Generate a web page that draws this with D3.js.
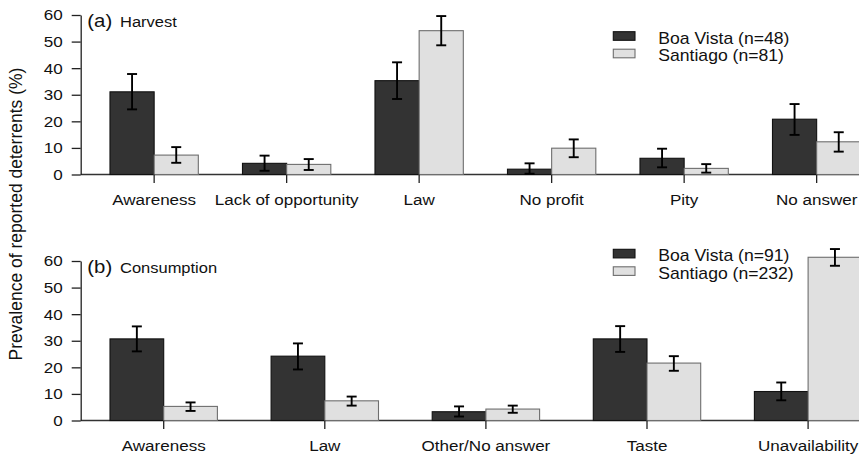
<!DOCTYPE html>
<html>
<head>
<meta charset="utf-8">
<script src="https://cdn.jsdelivr.net/npm/d3@7"></script>
<style>
  html, body { margin: 0; padding: 0; background: #fff; }
  svg { display: block; font-family: "Liberation Sans", Arial, Helvetica, sans-serif; }
</style>
</head>
<body>
<svg id="chart" width="859" height="458"></svg>
<script>
// Reported deterrents: percentages with error bounds, by site
const seriesNames = ["Boa Vista", "Santiago"];
const yTicks = [0, 10, 20, 30, 40, 50, 60];

// (a) Harvest
const harvestCategories = ["Awareness", "Lack of opportunity", "Law", "No profit", "Pity", "No answer"];
const harvestBoaVista      = [31.1, 4.2, 35.3, 2.0, 6.1, 20.8];
const harvestBoaVistaLow   = [24.5, 1.4, 28.4, 0.3, 2.7, 14.9];
const harvestBoaVistaHigh  = [37.8, 7.1, 42.2, 4.2, 9.7, 26.5];
const harvestSantiago      = [7.3, 3.8, 54.1, 9.9, 2.3, 12.3];
const harvestSantiagoLow   = [4.4, 1.7, 48.6, 6.5, 0.7, 8.6];
const harvestSantiagoHigh  = [10.3, 5.8, 59.6, 13.2, 3.9, 15.9];
const harvestLegend = ["Boa Vista (n=48)", "Santiago (n=81)"];

// (b) Consumption
const consumptionCategories = ["Awareness", "Law", "Other/No answer", "Taste", "Unavailability"];
const consumptionBoaVista     = [30.7, 24.2, 3.3, 30.7, 10.9];
const consumptionBoaVistaLow  = [26.0, 19.2, 1.5, 25.8, 7.6];
const consumptionBoaVistaHigh = [35.4, 29.0, 5.3, 35.5, 14.3];
const consumptionSantiago     = [5.3, 7.4, 4.3, 21.6, 61.4];
const consumptionSantiagoLow  = [3.6, 5.6, 2.9, 18.7, 58.2];
const consumptionSantiagoHigh = [6.8, 9.0, 5.6, 24.2, 64.5];
const consumptionLegend = ["Boa Vista (n=91)", "Santiago (n=232)"];

const fills   = ["#333333", "#e0e0e0"];
const strokes = ["#111111", "#6e6e6e"];
const STRETCH = 1.1;   // text is drawn slightly wide

const svg = d3.select("#chart");
const W = 859;
const axisX = 80.7;

function stretchText(sel, x, y) {
  sel.attr("transform", `translate(${x},${y}) scale(${STRETCH},1)`);
}

function panel(cfg) {
  const y = d3.scaleLinear().domain([0, 60]).range([cfg.y0, cfg.y0 - 159.5]);
  const x = d3.scaleBand()
    .domain(cfg.categories)
    .range(cfg.xRange)
    .paddingInner(1 / 3)
    .paddingOuter(1 / 6);
  const xs = d3.scaleBand().domain(seriesNames).range([0, x.bandwidth()]);

  const g = svg.append("g");

  // baseline
  g.append("line")
    .attr("x1", axisX).attr("x2", W)
    .attr("y1", y(0)).attr("y2", y(0))
    .attr("stroke", "#333").attr("stroke-width", 1.3);

  const rows = cfg.categories.map((c, i) => ({
    cat: c,
    vals: [
      { s: 0, v: cfg.boa[i], lo: cfg.boaLow[i], hi: cfg.boaHigh[i] },
      { s: 1, v: cfg.san[i], lo: cfg.sanLow[i], hi: cfg.sanHigh[i] }
    ]
  }));

  const grp = g.selectAll("g.grp").data(rows).join("g")
    .attr("class", "grp")
    .attr("transform", d => `translate(${x(d.cat)},0)`);

  grp.selectAll("rect").data(d => d.vals).join("rect")
    .attr("x", d => xs(seriesNames[d.s]))
    .attr("width", xs.bandwidth())
    .attr("y", d => y(d.v))
    .attr("height", d => y(0) - y(d.v))
    .attr("fill", d => fills[d.s])
    .attr("stroke", d => strokes[d.s])
    .attr("stroke-width", 1.1);

  // error bars
  const eb = grp.selectAll("g.eb").data(d => d.vals).join("g")
    .attr("class", "eb")
    .attr("transform", d => `translate(${xs(seriesNames[d.s]) + xs.bandwidth() / 2},0)`)
    .attr("stroke", "#000").attr("stroke-width", 1.9);
  eb.append("line").attr("x1", 0).attr("x2", 0)
    .attr("y1", d => y(d.lo)).attr("y2", d => y(d.hi));
  eb.append("line").attr("x1", -5).attr("x2", 5)
    .attr("y1", d => y(d.lo)).attr("y2", d => y(d.lo));
  eb.append("line").attr("x1", -5).attr("x2", 5)
    .attr("y1", d => y(d.hi)).attr("y2", d => y(d.hi));

  // y axis
  const ya = g.append("g")
    .attr("transform", `translate(${axisX},0)`)
    .call(d3.axisLeft(y).tickValues(yTicks).tickSize(9).tickPadding(9).tickSizeOuter(0));
  ya.select(".domain").attr("stroke", "#222").attr("stroke-width", 1.3);
  ya.selectAll(".tick line").attr("stroke", "#222").attr("stroke-width", 1.3);
  ya.selectAll(".tick text")
    .attr("font-size", 15.5).attr("fill", "#111")
    .each(function () {
      const t = d3.select(this);
      const tx = +t.attr("x");
      t.attr("x", null);
      stretchText(t, tx, 0);
    });
  ya.attr("font-family", null);

  // x axis (ticks below the baseline at group centres)
  const xa = g.append("g")
    .attr("transform", `translate(0,${y(0)})`)
    .call(d3.axisBottom(x).tickSize(8.5).tickSizeOuter(0));
  xa.select(".domain").remove();
  xa.selectAll(".tick line").attr("stroke", "#222").attr("stroke-width", 1.3);
  xa.selectAll(".tick text")
    .attr("font-size", 15.5).attr("fill", "#111")
    .attr("dy", null).attr("y", null)
    .each(function () { stretchText(d3.select(this), 0, 30.8); });
  xa.attr("font-family", null);

  // panel label
  stretchText(g.append("text").text(cfg.tag)
    .attr("font-size", 18.5).attr("fill", "#111"), 87.3, cfg.y0 - 147.2);
  stretchText(g.append("text").text(cfg.title)
    .attr("font-size", 15).attr("fill", "#111"), 120, cfg.y0 - 147.8);

  // legend
  const lg = g.append("g");
  cfg.legend.forEach((label, i) => {
    const top = cfg.legendY + i * 17.5;
    lg.append("rect")
      .attr("x", 613.3).attr("y", top)
      .attr("width", 21.7).attr("height", 8.6)
      .attr("fill", fills[i]).attr("stroke", strokes[i]).attr("stroke-width", 1.1);
    stretchText(lg.append("text").text(label)
      .attr("font-size", 16).attr("fill", "#111"), 658.3, top + 11.8);
  });
}

panel({
  categories: harvestCategories,
  boa: harvestBoaVista, boaLow: harvestBoaVistaLow, boaHigh: harvestBoaVistaHigh,
  san: harvestSantiago, sanLow: harvestSantiagoLow, sanHigh: harvestSantiagoHigh,
  y0: 174.5, xRange: [87.9, 882.9],
  tag: "(a)", title: "Harvest",
  legend: harvestLegend, legendY: 31.7
});

panel({
  categories: consumptionCategories,
  boa: consumptionBoaVista, boaLow: consumptionBoaVistaLow, boaHigh: consumptionBoaVistaHigh,
  san: consumptionSantiago, sanLow: consumptionSantiagoLow, sanHigh: consumptionSantiagoHigh,
  y0: 420.5, xRange: [83.15, 888.65],
  tag: "(b)", title: "Consumption",
  legend: consumptionLegend, legendY: 249.3
});

// shared y-axis title
svg.append("text")
  .text("Prevalence of reported deterrents (%)")
  .attr("font-size", 17.5).attr("fill", "#111")
  .attr("text-anchor", "middle")
  .attr("transform", "translate(21.5,214) rotate(-90)");
</script>
</body>
</html>
